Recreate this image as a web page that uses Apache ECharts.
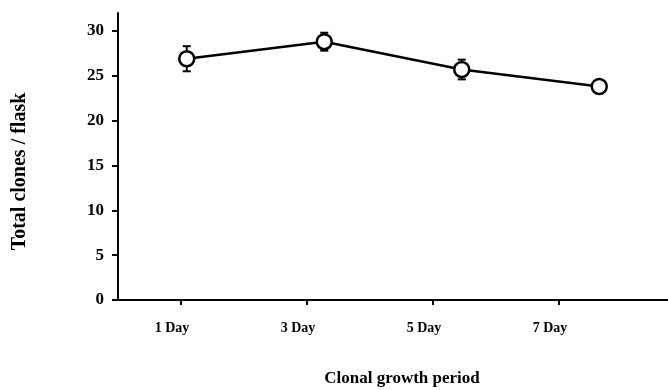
<!DOCTYPE html>
<html><head><meta charset="utf-8">
<script src="https://cdn.jsdelivr.net/npm/echarts@6/dist/echarts.min.js"></script>
<style>html,body{margin:0;padding:0;background:#fff}#c{width:668px;height:390px}</style>
</head><body><div id="c"></div>
<script>
const days = [1, 3, 5, 7];
const categories = ['1 Day', '3 Day', '5 Day', '7 Day'];
const means = [26.9, 28.8, 25.7, 23.8];
const errors = [1.4, 1.0, 1.1, 0.3];
const yTicks = [0, 5, 10, 15, 20, 25, 30];

const FONT = '"Liberation Serif", "Times New Roman", serif';
const chart = echarts.init(document.getElementById('c'), null, {renderer: 'canvas'});

const pts = days.map((d, i) => [d, means[i]]);
const errData = days.map((d, i) => [d, means[i] - errors[i], means[i] + errors[i]]);

chart.setOption({
  animation: false,
  backgroundColor: '#fff',
  grid: {left: 118, right: 0, top: 13, bottom: 90, outerBoundsMode: 'none', containLabel: false},
  xAxis: [
    {
      type: 'value', min: 0, max: 8,
      axisLine: {show: true, lineStyle: {color: '#000', width: 2}},
      axisTick: {show: false}, axisLabel: {show: false}, splitLine: {show: false},
      name: 'Clonal growth period', nameLocation: 'middle', nameGap: 70,
      nameTextStyle: {fontFamily: FONT, fontWeight: 'bold', fontSize: 17, color: '#000', padding: [0, 0, 0, 18]}
    },
    {
      type: 'value', min: 0, max: 550 / 63, position: 'bottom',
      axisLine: {show: false},
      axisTick: {show: true, customValues: days, length: 5, inside: false, lineStyle: {color: '#000', width: 2}},
      axisLabel: {show: true, customValues: days, margin: 21,
        formatter: v => categories[days.indexOf(v)],
        padding: [0, 18, 0, 0],
        fontFamily: FONT, fontWeight: 'bold', fontSize: 14, color: '#000'},
      splitLine: {show: false}
    }
  ],
  yAxis: {
    type: 'value', min: 0, max: 32,
    axisLine: {show: true, lineStyle: {color: '#000', width: 2}},
    axisTick: {show: true, customValues: yTicks, length: 6, lineStyle: {color: '#000', width: 2}},
    axisLabel: {customValues: yTicks, margin: 14, padding: [0, 0, 16, 0],
      fontFamily: FONT, fontWeight: 'bold', fontSize: 17, color: '#000'},
    splitLine: {show: false},
    name: 'Total clones / flask', nameLocation: 'middle', nameGap: 88,
    nameTextStyle: {fontFamily: FONT, fontWeight: 'bold', fontSize: 20, color: '#000', padding: [0, 30, 0, 0]}
  },
  series: [
    {
      type: 'custom', xAxisIndex: 0, z: 1,
      data: errData,
      renderItem: (params, api) => {
        const x = api.value(0);
        const lo = api.coord([x, api.value(1)]);
        const hi = api.coord([x, api.value(2)]);
        const w = 4;
        const st = {stroke: '#000', lineWidth: 2};
        return {type: 'group', children: [
          {type: 'line', shape: {x1: lo[0], y1: lo[1], x2: hi[0], y2: hi[1]}, style: st},
          {type: 'line', shape: {x1: lo[0] - w, y1: lo[1], x2: lo[0] + w, y2: lo[1]}, style: st},
          {type: 'line', shape: {x1: hi[0] - w, y1: hi[1], x2: hi[0] + w, y2: hi[1]}, style: st}
        ]};
      }
    },
    {
      type: 'line', xAxisIndex: 0, z: 3,
      data: pts,
      lineStyle: {color: '#000', width: 2.5},
      symbol: 'circle', symbolSize: 15,
      itemStyle: {color: '#fff', borderColor: '#000', borderWidth: 2.5}
    }
  ]
});
</script></body></html>
